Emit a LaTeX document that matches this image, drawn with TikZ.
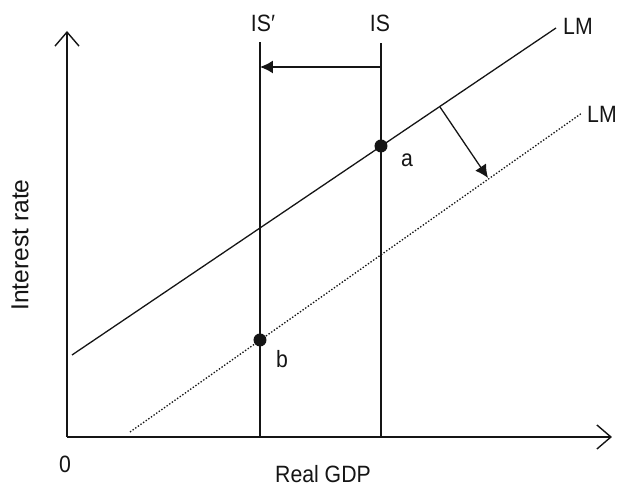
\documentclass[tikz,border=0pt]{standalone}
\usepackage{fontspec}
\setmainfont{Liberation Sans}
\newfontfamily\labelfont[FakeStretch=0.9]{Liberation Sans}
\usetikzlibrary{arrows.meta,calc,positioning}
\definecolor{inkgray}{HTML}{151515}
\tikzset{
  axis/.style={-{Straight Barb[length=7pt,width=12pt]},line width=0.7pt,draw=inkgray},
  curve/.style={line width=0.65pt,draw=inkgray},
  shiftcurve/.style={line width=0.65pt,draw=inkgray,dash pattern=on 0.7pt off 0.9pt},
  shiftarrow/.style={-{Latex[length=6.5pt,width=6.5pt]},line width=0.65pt,draw=inkgray},
  point/.style={circle,fill=inkgray,inner sep=0pt,minimum size=6.5pt},
  lbl/.style={inner sep=0pt,font=\labelfont\fontsize{11.8}{14}\selectfont,text=inkgray}
}

\begin{document}
\begin{tikzpicture}[x=0.5pt,y=0.5pt]
\useasboundingbox (0,0) rectangle (618,487);
% axes
\coordinate (origin) at (67,50);
\coordinate (ytop) at (67,456);
\coordinate (xend) at (612,50);
\draw[axis] (origin) -- (ytop);
\draw[axis] (origin) -- (xend);
% LM curves
\coordinate (lmstart) at (72,132);
\coordinate (lmend) at (556,459);
\coordinate (lmtwostart) at (130,55);
\coordinate (lmtwoend) at (582,374);
\draw[curve] (lmstart) -- (lmend);
\draw[shiftcurve] (lmtwostart) -- (lmtwoend);
% IS curves
\coordinate (isbot) at (381,50);
\coordinate (istop) at (381,444);
\coordinate (isprimebot) at (260,50);
\coordinate (isprimetop) at (260,445);
\draw[curve] (isbot) -- (istop);
\draw[curve] (isprimebot) -- (isprimetop);
% shifts
\coordinate (isshiftfrom) at (381,420);
\coordinate (isshiftto) at (260,420);
\draw[shiftarrow] (isshiftfrom) -- (isshiftto);
\coordinate (lmshiftfrom) at (440,380);
\coordinate (lmshiftto) at (488,309);
\draw[shiftarrow] (lmshiftfrom) -- (lmshiftto);
% equilibria
\node[point] (a) at (381,341) {};
\node[point] (b) at (260,147) {};
% labels
\node[lbl,anchor=base] (islabel) at (380,455) {IS};
\node[lbl,anchor=base] (isprimelabel) at (263,455) {IS′};
\node[lbl,anchor=base] (lmlabel) at (578,452) {LM};
\node[lbl,anchor=base] (lmtwolabel) at (602,364) {LM};
\node[lbl,anchor=base] (alabel) at (407,320) {a};
\node[lbl,anchor=base] (blabel) at (282,119) {b};
\node[lbl,anchor=base] (zerolabel) at (65,14) {0};
\node[lbl,anchor=base] (xlabel) at (323,4) {Real GDP};
\node[lbl,rotate=90,font=\fontsize{12.3}{15}\selectfont] (ylabel) at (20,242) {Interest rate};
\end{tikzpicture}
\end{document}
